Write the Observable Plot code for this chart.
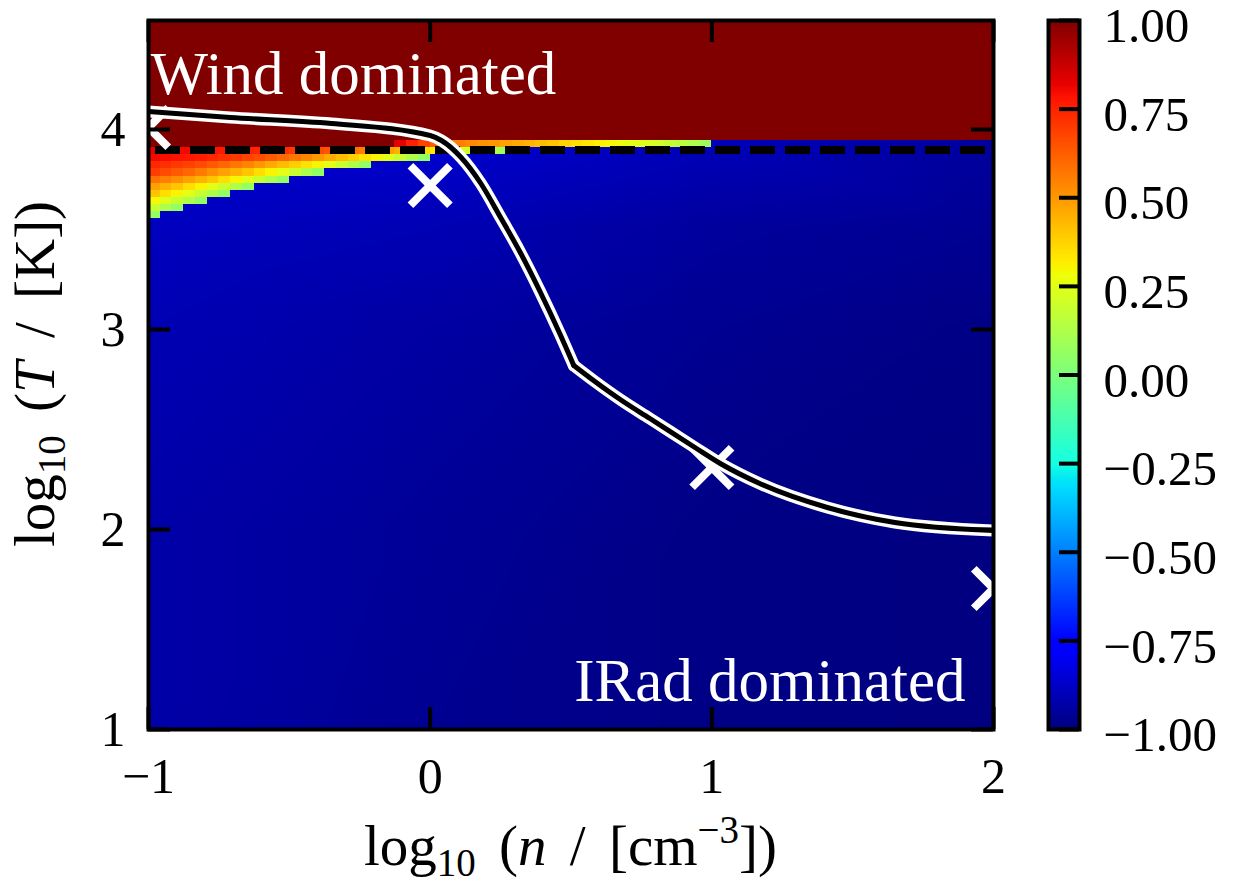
<!DOCTYPE html>
<html><head><meta charset="utf-8">
<script src="https://cdn.jsdelivr.net/npm/d3@7"></script>
<script src="https://cdn.jsdelivr.net/npm/@observablehq/plot@0.6"></script>
<style>
body{margin:0;background:#fff;}
#fig{position:relative;width:1248px;height:883px;font-family:"Liberation Serif",serif;}
#fig svg{position:absolute;top:0;}
</style></head><body><div id="fig"></div>
<script>
// ---------------- data ----------------
const xTicks = [-1, 0, 1, 2];
const yTicks = [1, 2, 3, 4];
const cbTicks = [-1, -0.75, -0.5, -0.25, 0, 0.25, 0.5, 0.75, 1];
const xDomain = [-1, 2];
const yDomain = [1, 4.545];

// boundary curve (log n, log T), two pieces meeting at the kink
const curveN = [-1, -0.71, -0.35, 0.0, 0.04, 0.11, 0.18, 0.25, 0.32, 0.39, 0.46, 0.51, 0.51, 0.58, 0.68, 0.78, 0.94, 1.03, 1.17, 1.41, 1.65, 2.0];
const curveT = [4.09, 4.06, 4.03, 3.97, 3.945, 3.86, 3.73, 3.56, 3.385, 3.19, 2.98, 2.82, 2.82, 2.745, 2.645, 2.555, 2.41, 2.33, 2.23, 2.11, 2.035, 1.995];
const curvePiece = ["a","a","a","a","a","a","a","a","a","a","a","a","b","b","b","b","b","b","b","b","b","b"];

// white cross markers
const markN = [-1, 0, 1, 2];
const markT = [4.01, 3.72, 2.31, 1.705];

// dashed horizontal line
const dashT = [3.8975];

// wind-dominated block (value +1)
const windRange = [3.945, 4.545];
const windValue = 1;

// transition rows: grid of cells (width 3/72 in log n, height 0.0355 in log T)
const cellWidth = 3 / 72;
const rowHeight = 0.0355;
const rowTops = [3.945, 3.9095, 3.874, 3.8385, 3.803, 3.7675, 3.732, 3.6965, 3.661, 3.6255, 3.59];
const rowVals = [
  [1,1,1,1,1,1,1,1,1,1,1,1,1,1,1,1,1,1,1,1,1, 0.82,0.75,0.68,0.62,0.58,0.55,0.53,0.51,0.50,0.48,0.46,0.44,0.42,0.40,0.37,0.35,0.33,0.31,0.29,0.27,0.25,0.23,0.21,0.18,0.15,0.12,0.08],
  [0.82,0.81,0.80,0.80,0.79,0.78,0.77,0.76,0.75,0.74,0.73,0.72,0.70,0.68,0.66,0.64,0.61,0.58,0.55,0.52,0.48,0.44,0.40,0.36,0.32,0.28,0.24,0.20,0.16,0.12,0.08,0.05],
  [0.80,0.79,0.78,0.77,0.76,0.74,0.72,0.70,0.68,0.66,0.63,0.60,0.57,0.54,0.50,0.46,0.42,0.38,0.34,0.30,0.25,0.19,0.12,0.06],
  [0.74,0.72,0.70,0.68,0.66,0.63,0.60,0.57,0.54,0.50,0.46,0.42,0.38,0.34,0.30,0.25,0.19,0.12,0.06],
  [0.69,0.66,0.63,0.60,0.56,0.52,0.48,0.44,0.40,0.35,0.30,0.25,0.19,0.12,0.06],
  [0.58,0.55,0.52,0.48,0.44,0.40,0.35,0.30,0.25,0.19,0.12,0.06],
  [0.48,0.44,0.40,0.35,0.30,0.25,0.19,0.12,0.06],
  [0.40,0.35,0.30,0.25,0.18,0.12,0.06],
  [0.29,0.24,0.18,0.12,0.06],
  [0.18,0.12,0.06],
  [0.06]
];

// IRad-dominated background samples (log n, log T, value)
const blueN = [-1, 0, 1, 2, -1, 0, 1, 2, -1, 0, 1, 2, -1, 0, 1, 2, -1, 0, 1, 2];
const blueT = [3.945, 3.945, 3.945, 3.945, 3.5, 3.5, 3.5, 3.5, 3, 3, 3, 3, 2, 2, 2, 2, 1, 1, 1, 1];
const blueV = [-0.85, -0.86, -0.9, -0.95, -0.89, -0.91, -0.95, -0.97, -0.91, -0.94, -0.97, -0.99, -0.93, -0.96, -0.99, -1.0, -0.93, -0.97, -0.99, -1.0];

// ---------------- colour map (matplotlib "jet") ----------------
function seg(t, xs, ys) {
  for (let i = 1; i < xs.length; i++) if (t <= xs[i]) return ys[i-1] + (ys[i]-ys[i-1]) * (t - xs[i-1]) / (xs[i]-xs[i-1]);
  return ys[ys.length-1];
}
function jet(t) {
  t = Math.max(0, Math.min(1, t));
  const r = seg(t, [0,0.35,0.66,0.89,1], [0,0,1,1,0.5]);
  const g = seg(t, [0,0.125,0.375,0.64,0.91,1], [0,0,1,1,0,0]);
  const b = seg(t, [0,0.11,0.34,0.65,1], [0.5,1,1,0,0]);
  return `rgb(${Math.round(r*255)},${Math.round(g*255)},${Math.round(b*255)})`;
}
const colorScale = {type: "linear", domain: [-1, 1], interpolate: jet, clamp: true};

// ---------------- build tables ----------------
const curve = curveN.map((n, i) => ({n, T: curveT[i], piece: curvePiece[i]}));
const markers = markN.map((n, i) => ({n, T: markT[i]}));
const blue = blueN.map((n, i) => ({n, T: blueT[i], v: blueV[i]}));
const wind = [{x1: xDomain[0], x2: xDomain[1], y1: windRange[0], y2: windRange[1], v: windValue}];
const cells = [];
rowVals.forEach((vals, r) => vals.forEach((v, k) => cells.push({
  x1: xDomain[0] + k * cellWidth, x2: xDomain[0] + (k + 1) * cellWidth,
  y1: rowTops[r] - rowHeight, y2: rowTops[r], v
})));

// layout
const W = 1248, H = 883, mL = 148, mR = 255, mT = 20, mB = 154;
const tickPx = 22;
const tyLen = tickPx * (yDomain[1] - yDomain[0]) / (H - mT - mB);
const txLen = tickPx * (xDomain[1] - xDomain[0]) / (W - mL - mR);
const FONT = "Liberation Serif, Times New Roman, serif";
const intFmt = d3.format("d");

const main = Plot.plot({
  width: W, height: H, marginLeft: mL, marginRight: mR, marginTop: mT, marginBottom: mB,
  x: {domain: xDomain}, y: {domain: yDomain},
  color: colorScale,
  style: {fontFamily: FONT, background: "transparent", overflow: "visible"},
  marks: [
    Plot.raster(blue, {x: "n", y: "T", fill: "v", interpolate: "barycentric", x1: xDomain[0], x2: xDomain[1], y1: yDomain[0], y2: yDomain[1]}),
    Plot.rect(wind, {x1: "x1", x2: "x2", y1: "y1", y2: "y2", fill: "v", shapeRendering: "crispEdges"}),
    Plot.rect(cells, {x1: "x1", x2: "x2", y1: "y1", y2: "y2", fill: "v", shapeRendering: "crispEdges"}),
    Plot.ruleY(dashT, {y: d => d, stroke: "black", strokeWidth: 8, strokeDasharray: "25,10", strokeDashoffset: 28}),
    Plot.dot(markers, {x: "n", y: "T", symbol: "times", r: 18, stroke: "white", strokeWidth: 8, fill: "none", clip: true}),
    Plot.line(curve, {x: "n", y: "T", z: "piece", curve: "monotone-x", stroke: "white", strokeWidth: 12, strokeLinecap: "round", clip: true}),
    Plot.line(curve, {x: "n", y: "T", z: "piece", curve: "monotone-x", stroke: "black", strokeWidth: 5, strokeLinecap: "round", clip: true}),
    Plot.text(["Wind dominated"], {x: xDomain[0], y: 4.18, text: d => d, textAnchor: "start", lineAnchor: "bottom", dx: 2, fill: "white", fontSize: 61}),
    Plot.text(["IRad dominated"], {x: xDomain[1], y: 1.145, text: d => d, textAnchor: "end", lineAnchor: "bottom", dx: -28, fill: "white", fontSize: 61}),
    // inward ticks on all four sides
    Plot.ruleX(xTicks, {x: d => d, y1: yDomain[0], y2: yDomain[0] + tyLen, strokeWidth: 4}),
    Plot.ruleX(xTicks, {x: d => d, y1: yDomain[1] - tyLen, y2: yDomain[1], strokeWidth: 4}),
    Plot.ruleY(yTicks, {y: d => d, x1: xDomain[0], x2: xDomain[0] + txLen, strokeWidth: 4}),
    Plot.ruleY(yTicks, {y: d => d, x1: xDomain[1] - txLen, x2: xDomain[1], strokeWidth: 4}),
    Plot.frame({stroke: "black", strokeWidth: 4}),
    Plot.axisX(xTicks, {anchor: "bottom", tickSize: 0, tickPadding: 28, fontSize: 50, tickFormat: intFmt, label: null}),
    Plot.axisY(yTicks, {anchor: "left", tickSize: 0, tickPadding: 23, fontSize: 50, tickFormat: intFmt, label: null})
  ]
});

// axis titles with sub/superscripts
const sm = d3.select(main);
const TS = 57, SS = 39;
const xt = sm.append("text").attr("x", (mL + W - mR) / 2).attr("y", 865).attr("text-anchor", "middle")
  .attr("font-family", FONT).attr("font-size", TS).attr("fill", "black").attr("word-spacing", "9px");
xt.append("tspan").text("log");
xt.append("tspan").attr("font-size", SS).attr("dy", 11).text("10");
xt.append("tspan").attr("dy", -11).text(" (");
xt.append("tspan").attr("font-style", "italic").text("n");
xt.append("tspan").text(" / [cm");
xt.append("tspan").attr("font-size", SS).attr("dy", -22).text("\u22123");
xt.append("tspan").attr("dy", 22).text("])");

const yt = sm.append("text").attr("transform", "translate(54,374) rotate(-90)").attr("text-anchor", "middle")
  .attr("font-family", FONT).attr("font-size", TS).attr("fill", "black").attr("word-spacing", "9px");
yt.append("tspan").text("log");
yt.append("tspan").attr("font-size", SS).attr("dy", 11).text("10");
yt.append("tspan").attr("dy", -11).text(" (");
yt.append("tspan").attr("font-style", "italic").text("T");
yt.append("tspan").text(" / [K])");

// colour bar
const cbSteps = d3.range(-1, 1, 0.005);
const fmt = d => (d < 0 ? "\u2212" : "") + Math.abs(d).toFixed(2);
const cb = Plot.plot({
  width: 208, height: H, marginLeft: 8, marginRight: 169, marginTop: mT, marginBottom: mB,
  x: {domain: [0, 1], axis: null}, y: {domain: [-1, 1], axis: null},
  color: colorScale,
  style: {fontFamily: FONT, background: "transparent", overflow: "visible"},
  marks: [
    Plot.rect(cbSteps, {x1: 0, x2: 1, y1: d => d, y2: d => d + 0.0065, fill: d => d + 0.0025, shapeRendering: "crispEdges"}),
    Plot.ruleY(cbTicks, {y: d => d, x1: 0.355, x2: 1, strokeWidth: 4}),
    Plot.frame({stroke: "black", strokeWidth: 4}),
    Plot.text(cbTicks, {x: 1, y: d => d, text: fmt, dx: 24, dy: 6, textAnchor: "start", fontSize: 49})
  ]
});
cb.style.left = "1040px";
main.style.left = "0px";
const fig = document.getElementById("fig");
fig.appendChild(main);
fig.appendChild(cb);
</script></body></html>
